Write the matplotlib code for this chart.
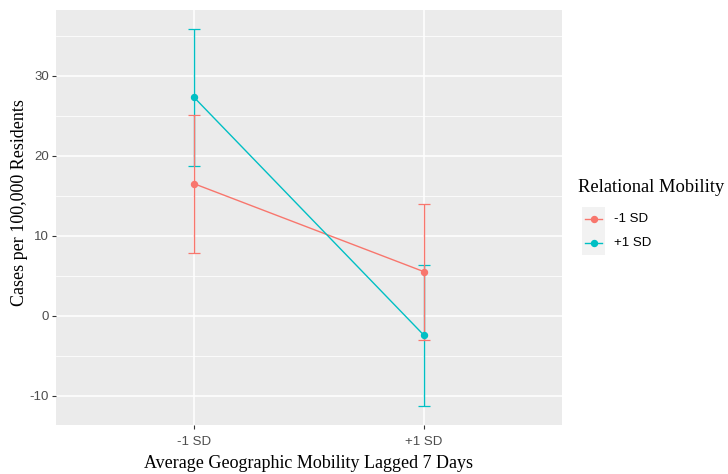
import numpy as np
import matplotlib.pyplot as plt
from matplotlib.lines import Line2D
from matplotlib.patches import Rectangle

plt.rcParams['axes.unicode_minus'] = False

# Nilai rata-rata dan batas error bar tiap kelompok
x_labels = ['-1 SD', '+1 SD']
groups = ['-1 SD', '+1 SD']
minus_mean = [16.5, 5.5]
minus_lo = [7.9, -3.0]
minus_hi = [25.1, 13.9]
plus_mean = [27.3, -2.45]
plus_lo = [18.7, -11.3]
plus_hi = [35.85, 6.3]

warna = ['#F8766D', '#00BFC4']
serif = ['Liberation Serif', 'DejaVu Serif']
sans = ['Liberation Sans', 'DejaVu Sans']

fig = plt.figure(figsize=(7.28, 4.74), dpi=100)
ax = fig.add_axes([56 / 728, 49 / 474, 506 / 728, 415 / 474])
ax.set_facecolor('#EBEBEB')

x = np.arange(1, len(x_labels) + 1)
data = [(minus_mean, minus_lo, minus_hi), (plus_mean, plus_lo, plus_hi)]

# Error bar (cyan dulu, merah di atasnya)
for i in [1, 0]:
    m, lo, hi = data[i]
    m = np.array(m); lo = np.array(lo); hi = np.array(hi)
    ax.errorbar(x, m, yerr=[m - lo, hi - m], fmt='none', ecolor=warna[i],
                elinewidth=1.0, capsize=4.3, capthick=0.9, zorder=3)

# Garis dan titik
for i in range(2):
    m = data[i][0]
    ax.plot(x, m, color=warna[i], lw=1.0, zorder=4)
for i in range(2):
    m = data[i][0]
    ax.plot(x, m, 'o', color=warna[i], ms=4.3, zorder=5)

# Skala sumbu ala ggplot (ekspansi 5% untuk y, 0.6 untuk diskrit)
semua = minus_lo + minus_hi + plus_lo + plus_hi
ymin, ymax = min(semua), max(semua)
pad = 0.05 * (ymax - ymin)
ax.set_ylim(ymin - pad, ymax + pad)
ax.set_xlim(1 - 0.6, len(x_labels) + 0.6)

ax.set_yticks([-10, 0, 10, 20, 30])
ax.set_yticks([-5, 5, 15, 25, 35], minor=True)
ax.set_xticks(x)
ax.set_xticklabels(x_labels)

ax.grid(which='major', color='white', lw=1.1, zorder=0)
ax.grid(which='minor', axis='y', color='white', lw=0.55, zorder=0)
ax.set_axisbelow(True)
for s in ax.spines.values():
    s.set_visible(False)
ax.tick_params(which='major', length=3, width=0.8, color='#333333',
               labelsize=9.5, labelcolor='#4D4D4D')
ax.tick_params(axis='x', pad=5)
ax.tick_params(axis='y', pad=2)
ax.tick_params(which='minor', length=0)
for lbl in ax.get_xticklabels() + ax.get_yticklabels():
    lbl.set_family(sans)

ax.set_xlabel('Average Geographic Mobility Lagged 7 Days', family=serif,
              fontsize=13, labelpad=5)
ax.set_ylabel('Cases per 100,000 Residents', family=serif, fontsize=13)
ax.yaxis.set_label_coords(-0.055, 0.537)

# Legenda manual
fig.text(578 / 728, 1 - 187 / 474, 'Relational Mobility', family=serif,
         fontsize=13.3, va='center', ha='left')
for k, g in enumerate(groups):
    yc = 1 - (219 + 24 * k) / 474
    fig.patches.append(Rectangle((582 / 728, yc - 12 / 474), 23 / 728, 24 / 474,
                                 transform=fig.transFigure, facecolor='#F2F2F2',
                                 edgecolor='none'))
    fig.add_artist(Line2D([585 / 728, 602 / 728], [yc, yc], color=warna[k],
                          lw=1.0, transform=fig.transFigure))
    fig.add_artist(Line2D([593.5 / 728], [yc], marker='o', ms=4.3,
                          color=warna[k], transform=fig.transFigure))
    fig.text(614 / 728, yc, g, family=sans, fontsize=9.5, color='black',
             va='center', ha='left')

plt.savefig('out.png', dpi=100)
